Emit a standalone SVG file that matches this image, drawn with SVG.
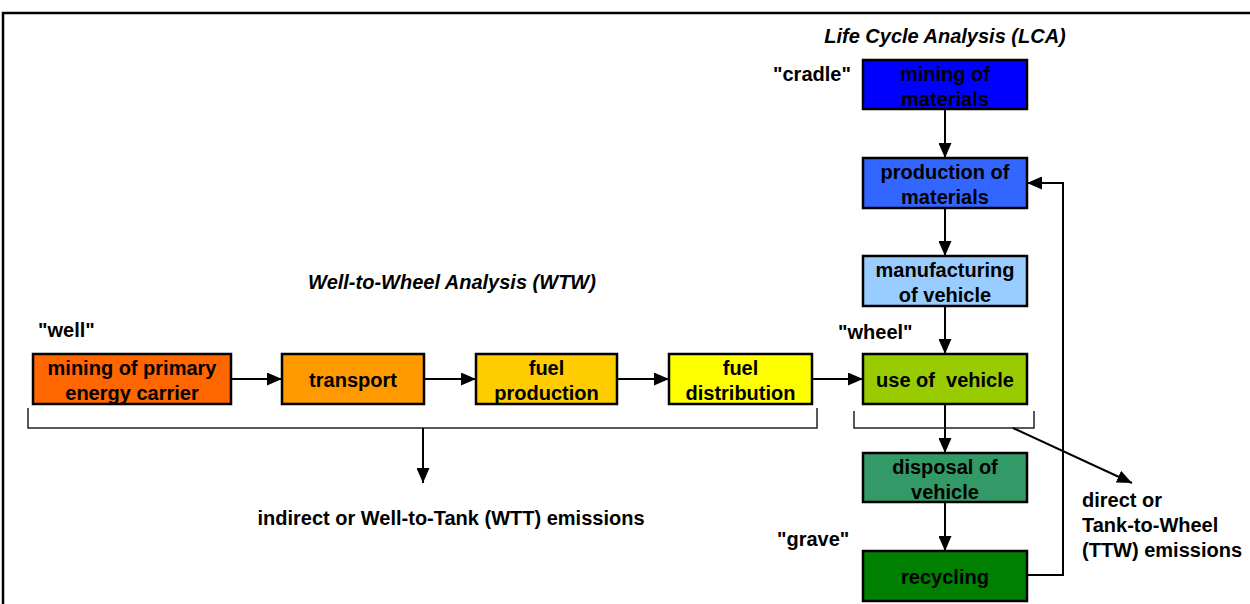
<svg xmlns="http://www.w3.org/2000/svg" width="1250" height="604" viewBox="0 0 1250 604">
<style>
text{font-family:"Liberation Sans",Arial,sans-serif;font-weight:bold;font-size:20px;fill:#000}
.c{text-anchor:middle}
.i{font-style:italic}
.box{stroke:#000;stroke-width:2.5}
.ln{fill:none;stroke:#000;stroke-width:2}
.br{fill:none;stroke:#222;stroke-width:1.5}
</style>
<defs>
<marker id="ah" markerUnits="userSpaceOnUse" markerWidth="15" markerHeight="13" refX="15" refY="6.5" orient="auto">
<path d="M0,0 L15,6.5 L0,13 Z" fill="#000"/>
</marker>
</defs>
<rect x="0" y="0" width="1250" height="604" fill="#fff"/>
<path d="M3,604 V13 H1250" fill="none" stroke="#000" stroke-width="2.5"/>

<text class="c i" x="945" y="43">Life Cycle Analysis (LCA)</text>
<text class="c i" x="452" y="289">Well-to-Wheel Analysis (WTW)</text>
<text x="773" y="81">"cradle"</text>
<text x="38" y="337">"well"</text>
<text x="838" y="339">"wheel"</text>
<text x="777" y="546">"grave"</text>
<text class="c" x="451" y="525">indirect or Well-to-Tank (WTT) emissions</text>
<text x="1082" y="507">direct or</text>
<text x="1082" y="532">Tank-to-Wheel</text>
<text x="1082" y="557">(TTW) emissions</text>

<g id="mining-primary"><rect class="box" x="33" y="354" width="198" height="50" fill="#FF6600"/><text class="c" x="132" y="375">mining of primary</text><text class="c" x="132" y="400">energy carrier</text></g>
<g id="transport"><rect class="box" x="282" y="354" width="142" height="50" fill="#FF9900"/><text class="c" x="353" y="387">transport</text></g>
<g id="fuel-production"><rect class="box" x="476" y="354" width="141" height="50" fill="#FFCC00"/><text class="c" x="546.5" y="375">fuel</text><text class="c" x="546.5" y="400">production</text></g>
<g id="fuel-distribution"><rect class="box" x="669" y="354" width="143" height="50" fill="#FFFF00"/><text class="c" x="740.5" y="375">fuel</text><text class="c" x="740.5" y="400">distribution</text></g>

<g id="mining-materials"><rect class="box" x="863" y="60" width="164" height="49" fill="#0000FF"/><text class="c" x="945" y="81">mining of</text><text class="c" x="945" y="106">materials</text></g>
<g id="production-materials"><rect class="box" x="863" y="158" width="164" height="50" fill="#3366FF"/><text class="c" x="945" y="179">production of</text><text class="c" x="945" y="204">materials</text></g>
<g id="manufacturing"><rect class="box" x="863" y="256" width="164" height="50" fill="#99CCFF"/><text class="c" x="945" y="277">manufacturing</text><text class="c" x="945" y="302">of vehicle</text></g>
<g id="use"><rect class="box" x="863" y="354" width="164" height="50" fill="#99CC00"/><text class="c" x="945" y="387" xml:space="preserve">use of  vehicle</text></g>
<g id="disposal"><rect class="box" x="863" y="453" width="164" height="49" fill="#339966"/><text class="c" x="945" y="474">disposal of</text><text class="c" x="945" y="499">vehicle</text></g>
<g id="recycling"><rect class="box" x="863" y="551" width="164" height="50" fill="#008000"/><text class="c" x="945" y="584">recycling</text></g>

<g id="connectors">
<line class="ln" x1="231" y1="379" x2="282" y2="379" marker-end="url(#ah)"/>
<line class="ln" x1="424" y1="379" x2="476" y2="379" marker-end="url(#ah)"/>
<line class="ln" x1="617" y1="379" x2="669" y2="379" marker-end="url(#ah)"/>
<line class="ln" x1="812" y1="379" x2="863" y2="379" marker-end="url(#ah)"/>
<line class="ln" x1="945" y1="109" x2="945" y2="158" marker-end="url(#ah)"/>
<line class="ln" x1="945" y1="208" x2="945" y2="256" marker-end="url(#ah)"/>
<line class="ln" x1="945" y1="306" x2="945" y2="354" marker-end="url(#ah)"/>
<line class="ln" x1="945" y1="404" x2="945" y2="453" marker-end="url(#ah)"/>
<line class="ln" x1="945" y1="502" x2="945" y2="551" marker-end="url(#ah)"/>
<path class="ln" d="M1027,575 H1063 V183 H1027" marker-end="url(#ah)"/>
<path class="br" d="M28,408 V428 H817 V408"/>
<line class="ln" x1="423" y1="428" x2="423" y2="483" marker-end="url(#ah)"/>
<path class="br" d="M854,411 V428 H1034 V411"/>
<line class="ln" x1="1013" y1="428" x2="1132" y2="483" marker-end="url(#ah)"/>
</g>
</svg>
